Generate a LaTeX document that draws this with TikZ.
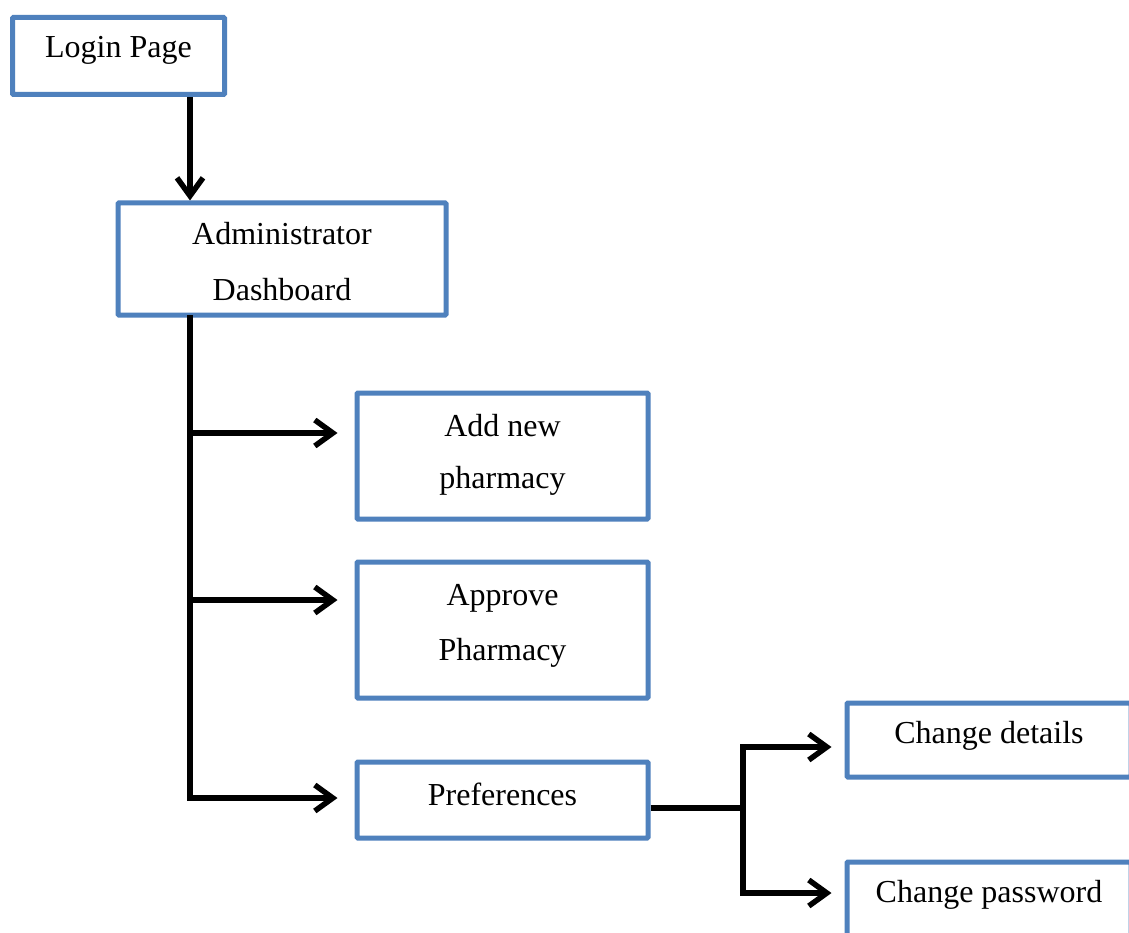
\documentclass[tikz,border=0pt]{standalone}
\usepackage{fontspec}
\setmainfont{Liberation Serif}
\usetikzlibrary{arrows.meta,calc}
\definecolor{boxblue}{HTML}{4F81BD}
\tikzset{
  box/.style={draw=boxblue, line width=5pt, rectangle, rounded corners=1pt, fill=white, inner sep=0pt},
  lbl/.style={anchor=base, inner sep=0pt, font=\fontsize{32pt}{32pt}\selectfont},
  conn/.style={draw=black, line width=6pt},
  arr/.style={conn, -{Straight Barb[length=18pt,width=26pt,line width=5.5pt]}}
}
\begin{document}
\begin{tikzpicture}[x=1pt,y=-1pt]
\useasboundingbox (0,0) rectangle (1129,933);
\clip (0,0) rectangle (1129,933);
\fill[white] (0,0) rectangle (1129,933);
% boxes
\node[box, minimum width=212pt, minimum height=77pt] (login) at (118.5,56) {};
\node[box, minimum width=328pt, minimum height=112pt] (admin) at (282,259) {};
\node[box, minimum width=291pt, minimum height=126pt] (add) at (502.5,456) {};
\node[box, minimum width=291pt, minimum height=136pt] (approve) at (502.5,630) {};
\node[box, minimum width=291pt, minimum height=76pt] (prefs) at (502.5,800) {};
\node[box, minimum width=284pt, minimum height=74pt] (details) at (989,740) {};
\node[box, minimum width=284pt, minimum height=140pt] (password) at (989,932) {};
% texts
\node[lbl] (tlogin) at (118.5,58) {Login Page};
\node[lbl] (tadmin1) at (282,245) {Administrator};
\node[lbl] (tadmin2) at (282,300) {Dashboard};
\node[lbl] (tadd1) at (502.5,436) {Add new};
\node[lbl] (tadd2) at (502.5,488) {pharmacy};
\node[lbl] (tapp1) at (502.5,605) {Approve};
\node[lbl] (tapp2) at (502.5,660) {Pharmacy};
\node[lbl] (tprefs) at (502.5,805) {Preferences};
\node[lbl] (tdetails) at (989,743) {Change details};
\node[lbl] (tpassword) at (989,902) {Change password};
% junction coordinates
\coordinate (trunk) at (190,0);
\coordinate (j1) at (190,433);
\coordinate (j2) at (190,600);
\coordinate (j3) at (190,798);
\coordinate (p0) at (650,808);
\coordinate (p1) at (743,747);
\coordinate (p2) at (743,893);
% connectors
\draw[arr] (login.south -| trunk) -- (admin.north -| trunk);
\draw[conn, line cap=rect] (admin.south -| trunk) -- (j3);
\draw[arr] (j1) -- ($(j1 -| add.west)+(-17,0)$);
\draw[arr] (j2) -- ($(j2 -| approve.west)+(-17,0)$);
\draw[arr] (j3) -- ($(j3 -| prefs.west)+(-17,0)$);
\draw[conn] (p0 -| prefs.east) -- (p0 -| p1);
\draw[conn, line cap=rect] (p1) -- (p2);
\draw[arr] (p1) -- ($(p1 -| details.west)+(-13,0)$);
\draw[arr] (p2) -- ($(p2 -| password.west)+(-13,0)$);
\end{tikzpicture}
\end{document}
